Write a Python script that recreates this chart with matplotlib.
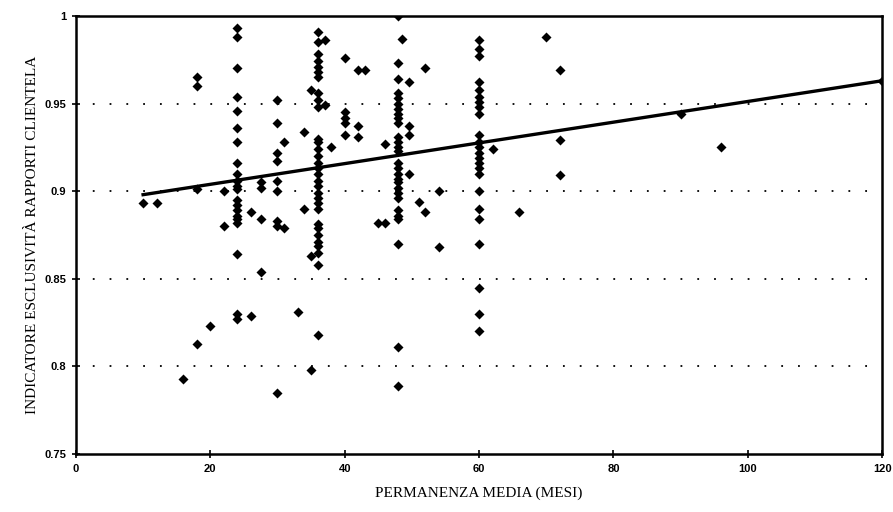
import numpy as np
import matplotlib
matplotlib.use("Agg")
import matplotlib.pyplot as plt

# average stay (months) for each bank
perm_months = (
    [10, 12, 16]
    + [18] * 4 + [20] + [22] * 2
    + [24] * 21
    + [26] * 2 + [27.5] * 4
    + [30] * 9 + [31] * 2 + [33] + [34] * 2 + [35] * 3
    + [36] * 31
    + [37] * 2 + [38] + [40] * 5 + [42] * 3 + [43] + [45] + [46] * 2
    + [48] * 28
    + [48.5] + [49.5] * 4 + [51] + [52] * 2 + [54] * 2
    + [60] * 24
    + [62, 66, 70] + [72] * 3 + [90, 96, 120]
)

exclusivity = (
    [0.893, 0.893, 0.793]
    + [0.965, 0.960, 0.901, 0.813] + [0.823] + [0.880, 0.900]
    + [0.993, 0.988, 0.970, 0.954, 0.946, 0.936, 0.928, 0.916, 0.910, 0.906,
       0.903, 0.901, 0.895, 0.892, 0.889, 0.886, 0.884, 0.882, 0.864, 0.830, 0.827]
    + [0.888, 0.829] + [0.884, 0.854, 0.902, 0.905]
    + [0.952, 0.939, 0.922, 0.917, 0.906, 0.900, 0.883, 0.880, 0.785]
    + [0.928, 0.879] + [0.831] + [0.934, 0.890] + [0.958, 0.863, 0.798]
    + [0.991, 0.985, 0.978, 0.974, 0.971, 0.968, 0.965, 0.956, 0.952, 0.948,
       0.930, 0.928, 0.924, 0.920, 0.916, 0.913, 0.910, 0.906, 0.903, 0.899,
       0.896, 0.893, 0.890, 0.881, 0.879, 0.875, 0.871, 0.869, 0.865, 0.858, 0.818]
    + [0.949, 0.986] + [0.925] + [0.976, 0.945, 0.942, 0.939, 0.932]
    + [0.969, 0.937, 0.931] + [0.969] + [0.882] + [0.927, 0.882]
    + [1.0, 0.973, 0.964, 0.956, 0.953, 0.950, 0.947, 0.944, 0.942, 0.939,
       0.931, 0.928, 0.925, 0.923, 0.916, 0.913, 0.910, 0.907, 0.905, 0.902,
       0.899, 0.896, 0.889, 0.886, 0.884, 0.870, 0.811, 0.789]
    + [0.987] + [0.962, 0.937, 0.932, 0.910] + [0.894] + [0.970, 0.888] + [0.900, 0.868]
    + [0.986, 0.981, 0.977, 0.962, 0.958, 0.954, 0.951, 0.948, 0.944, 0.932,
       0.928, 0.925, 0.922, 0.919, 0.916, 0.913, 0.910, 0.900, 0.890, 0.884,
       0.870, 0.845, 0.830, 0.820]
    + [0.924, 0.888, 0.988] + [0.969, 0.929, 0.909] + [0.944, 0.925, 0.963]
)

# trend line as drawn in the original
trend_x = [10, 120]
trend_y = [0.898, 0.963]

x_ticks = [0, 20, 40, 60, 80, 100, 120]
y_ticks = [0.75, 0.8, 0.85, 0.9, 0.95, 1]
y_tick_labels = ["0.75", "0.8", "0.85", "0.9", "0.95", "1"]
grid_levels = [0.8, 0.85, 0.9, 0.95]

fig = plt.figure(figsize=(8.93, 5.12), dpi=100)
ax = fig.add_axes([0.085, 0.113, 0.903, 0.856])

for g in grid_levels:
    ax.axhline(g, color="black", lw=1.3, linestyle=(0, (1, 8.3)), zorder=1)

ax.scatter(perm_months, exclusivity, marker="D", s=26, color="black",
           linewidths=0, zorder=3)
ax.plot(trend_x, trend_y, color="black", lw=2.4, zorder=4)

ax.set_xlim(0, 120)
ax.set_ylim(0.75, 1)
ax.set_xticks(x_ticks)
ax.set_yticks(y_ticks)
ax.set_yticklabels(y_tick_labels)
for lbl in ax.get_xticklabels() + ax.get_yticklabels():
    lbl.set_fontfamily("Liberation Sans")
    lbl.set_fontweight("bold")
    lbl.set_fontsize(8)
ax.tick_params(direction="inout", length=6, width=1.2, pad=4)

for s in ax.spines.values():
    s.set_linewidth(1.8)

ax.set_xlabel("PERMANENZA MEDIA (MESI)", fontfamily="Liberation Serif",
              fontsize=11, labelpad=9)
ax.set_ylabel("INDICATORE ESCLUSIVITÀ RAPPORTI CLIENTELA",
              fontfamily="Liberation Serif", fontsize=11, labelpad=4)

fig.savefig("out.png", dpi=100)
